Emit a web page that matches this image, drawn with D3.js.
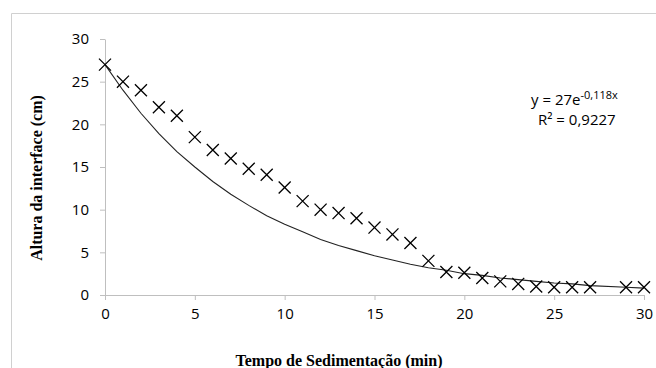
<!DOCTYPE html>
<html>
<head>
<meta charset="utf-8">
<script src="https://cdn.jsdelivr.net/npm/d3@7"></script>
<style>
    body { margin: 0; background: #fff; }
    .tick text { font-family: "Open Sans", sans-serif; font-size: 15px; fill: #000; }
    .axisTitle { font-family: "Liberation Serif", serif; font-weight: bold; font-size: 16px; fill: #000; }
    .eq { font-family: "Open Sans", sans-serif; font-size: 15px; fill: #000; }
</style>
</head>
<body>
<div id="chart"></div>
<script>
// measured points (time in min, interface height in cm)
var tempo = [0, 1, 2, 3, 4, 5, 6, 7, 8, 9, 10, 11, 12, 13, 14, 15, 16, 17, 18, 19, 20, 21, 22, 23, 24, 25, 26, 27, 29, 30];
var altura = [27, 25, 24, 22, 21, 18.5, 17, 16, 14.8, 14.1, 12.6, 11, 10, 9.6, 9, 7.9, 7.1, 6.1, 4, 2.7, 2.6, 2, 1.6, 1.3, 1, 0.9, 0.9, 0.9, 0.9, 0.9];
// exponential trendline read at the same x points
var tendencia = [27, 24, 21.3, 18.9, 16.8, 15, 13.3, 11.8, 10.5, 9.3, 8.3, 7.4, 6.5, 5.8, 5.2, 4.6, 4.1, 3.6, 3.2, 2.9, 2.5, 2.3, 2, 1.8, 1.6, 1.4, 1.3, 1.1, 0.9, 0.8];
var xTicks = [0, 5, 10, 15, 20, 25, 30];
var yTicks = [0, 5, 10, 15, 20, 25, 30];

var W = 656, H = 368;
var margin = { top: 39, right: 12, bottom: 73, left: 105 },
    width = 644 - margin.left,
    height = 295 - margin.top;

var svg = d3.select("#chart").append("svg")
    .attr("width", W)
    .attr("height", H);

// outer chart frame (only top and left edges visible)
svg.append("path")
    .attr("d", "M11.5," + H + "V13.5H" + W)
    .attr("fill", "none")
    .attr("stroke", "#d0d0d0")
    .attr("stroke-width", 1);

var g = svg.append("g")
    .attr("transform", "translate(" + margin.left + "," + margin.top + ")");

var x = d3.scaleLinear().domain([0, 30]).range([0, width]);
var y = d3.scaleLinear().domain([0, 30]).range([height, 0]);

var xAxis = g.append("g")
    .attr("transform", "translate(0," + height + ")")
    .call(d3.axisBottom(x).tickValues(xTicks).tickSize(5).tickPadding(6).tickSizeOuter(0));
var yAxis = g.append("g")
    .call(d3.axisLeft(y).tickValues(yTicks).tickSize(5).tickPadding(11).tickSizeOuter(0));

[xAxis, yAxis].forEach(function (a) {
    a.select(".domain").attr("stroke", "#bfbfbf");
    a.selectAll(".tick line").attr("stroke", "#bfbfbf");
});
xAxis.selectAll(".tick text").attr("dy", "0.85em");

// trendline
var linha = d3.line()
    .x(function (d, i) { return x(tempo[i]); })
    .y(function (d) { return y(d); });

g.append("path")
    .datum(tendencia)
    .attr("d", linha)
    .attr("fill", "none")
    .attr("stroke", "#222")
    .attr("stroke-width", 1.1);

// data markers
var marker = d3.symbol().type(d3.symbolX).size(96);
g.selectAll(".pt")
    .data(altura)
    .enter()
    .append("path")
    .attr("class", "pt")
    .attr("transform", function (d, i) { return "translate(" + x(tempo[i]) + "," + y(d) + ")"; })
    .attr("d", marker)
    .attr("fill", "none")
    .attr("stroke", "#000")
    .attr("stroke-width", 1.3);

// equation label
var eq = svg.append("text").attr("class", "eq").attr("x", 531).attr("y", 105);
eq.append("tspan").text("y = 27e");
eq.append("tspan").attr("font-size", "11px").attr("dy", "-6").text("-0,118x");
svg.append("text").attr("class", "eq").attr("x", 538).attr("y", 125).text("R\u00b2 = 0,9227");

// axis titles
svg.append("text")
    .attr("class", "axisTitle")
    .attr("text-anchor", "middle")
    .attr("x", 339)
    .attr("y", 366)
    .text("Tempo de Sedimentação (min)");

svg.append("text")
    .attr("class", "axisTitle")
    .attr("text-anchor", "middle")
    .attr("transform", "translate(42,178) rotate(-90)")
    .text("Altura da interface (cm)");
</script>
</body>
</html>
